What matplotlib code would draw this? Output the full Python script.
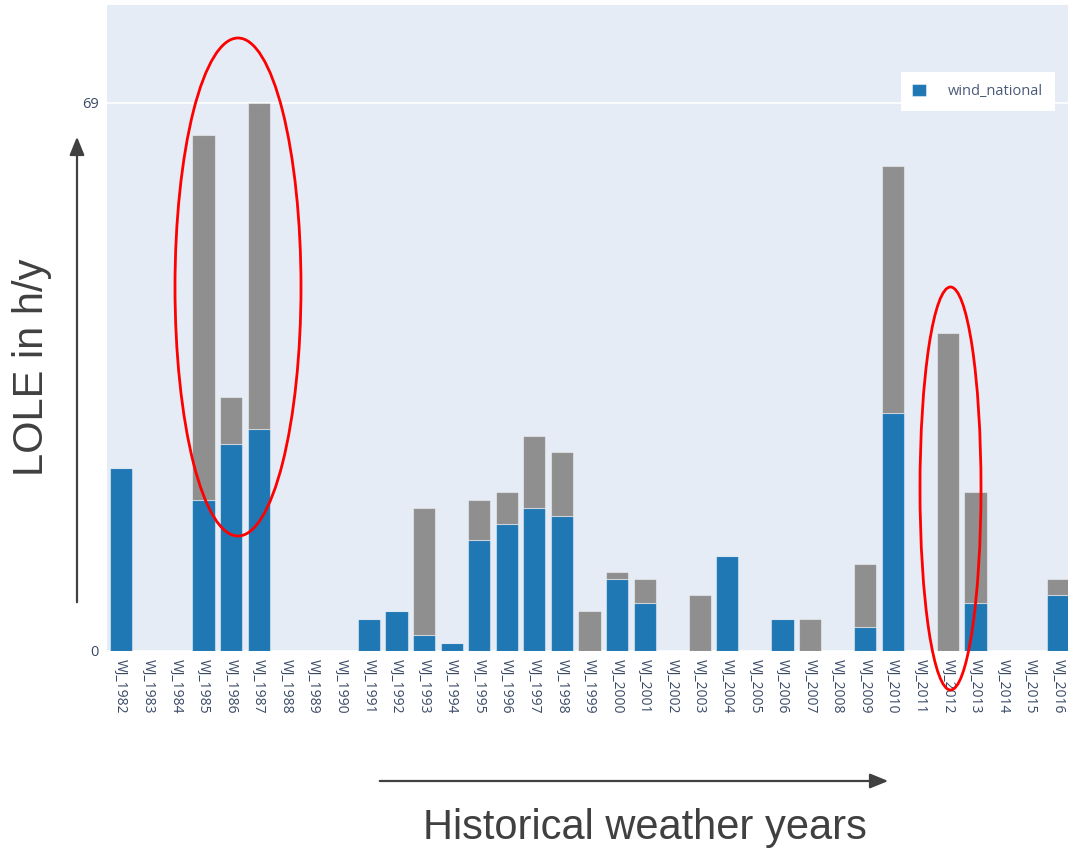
import matplotlib.pyplot as plt
from matplotlib.patches import Ellipse, FancyArrowPatch

years = ["WJ_%d" % y for y in range(1982, 2017)]
wind_national = [23, 0, 0, 19, 26, 28, 0, 0, 0, 4, 5, 2, 1, 14, 16, 18, 17, 0,
                 9, 6, 0, 0, 12, 0, 4, 0, 0, 3, 30, 0, 0, 6, 0, 0, 7]
other = [0, 0, 0, 46, 6, 41, 0, 0, 0, 0, 0, 16, 0, 5, 4, 9, 8, 5,
         1, 3, 0, 7, 0, 0, 0, 4, 0, 8, 31, 0, 40, 14, 0, 0, 2]

W, H = 1068, 851
fig = plt.figure(figsize=(W / 100, H / 100), dpi=100)
ax = fig.add_axes([107 / W, (H - 651) / H, (1072 - 107) / W, (651 - 5) / H])
ax.set_facecolor("#E5ECF6")

x = range(len(years))
edge = (1, 1, 1, 0.45)
ax.bar(x, wind_national, width=0.8, color="#1f77b4", edgecolor=edge,
       linewidth=0.8, label="wind_national", zorder=3)
ax.bar(x, other, width=0.8, bottom=wind_national, color="#8f8f8f",
       edgecolor=edge, linewidth=0.8, zorder=3)

ax.set_xlim(-0.5, len(years) - 0.5)
ax.set_ylim(0, 81.3)
ax.set_yticks([0, 69])
ax.set_xticks(list(x))
ax.set_xticklabels(years, rotation=-90, family="Open Sans", fontsize=10,
                   color="#3a4a66")
for lab in ax.get_yticklabels():
    lab.set_family("Open Sans")
    lab.set_fontsize(10.5)
    lab.set_color("#3a4a66")
ax.tick_params(length=0, pad=6)
ax.grid(axis="y", color="white", linewidth=1.2, zorder=1)
for s in ax.spines.values():
    s.set_visible(False)

leg = ax.legend(loc="upper right",
                bbox_to_anchor=((1055 - 107) / (1072 - 107), (651 - 72) / (651 - 5)),
                frameon=True, fancybox=False, handlelength=0.95, handleheight=0.95,
                handletextpad=1.5, borderpad=0.8, borderaxespad=0,
                prop={"family": "Open Sans", "size": 10.5})
leg.get_frame().set_edgecolor("white")
leg.get_frame().set_linewidth(0)
leg.get_frame().set_alpha(1)
for t in leg.get_texts():
    t.set_color("#4a5a78")

def fx(px):
    return px / W

def fy(py):
    return (H - py) / H

# red ellipses
fig.patches.append(Ellipse((fx(238), fy(287)), 126 / W, 498 / H, fill=False,
                           edgecolor="red", linewidth=2, transform=fig.transFigure))
fig.patches.append(Ellipse((fx(950.5), fy(488.5)), 61 / W, 403 / H, fill=False,
                           edgecolor="red", linewidth=2, transform=fig.transFigure))

# arrows
fig.patches.append(FancyArrowPatch((fx(77), fy(605)), (fx(77), fy(134)),
                                   arrowstyle="-|>,head_length=11,head_width=4.5",
                                   color="#404040", linewidth=1.6,
                                   transform=fig.transFigure))
fig.patches.append(FancyArrowPatch((fx(377), fy(781)), (fx(891), fy(781)),
                                   arrowstyle="-|>,head_length=11,head_width=4.5",
                                   color="#404040", linewidth=1.6,
                                   transform=fig.transFigure))

fig.text(fx(32), fy(367), "LOLE in h/y", rotation=90, ha="center", va="center",
         family="Liberation Sans", fontsize=30, color="#404040")
fig.text(fx(645), fy(828), "Historical weather years", ha="center", va="center",
         family="Liberation Sans", fontsize=30, color="#404040")

fig.savefig("out.png", dpi=100)
